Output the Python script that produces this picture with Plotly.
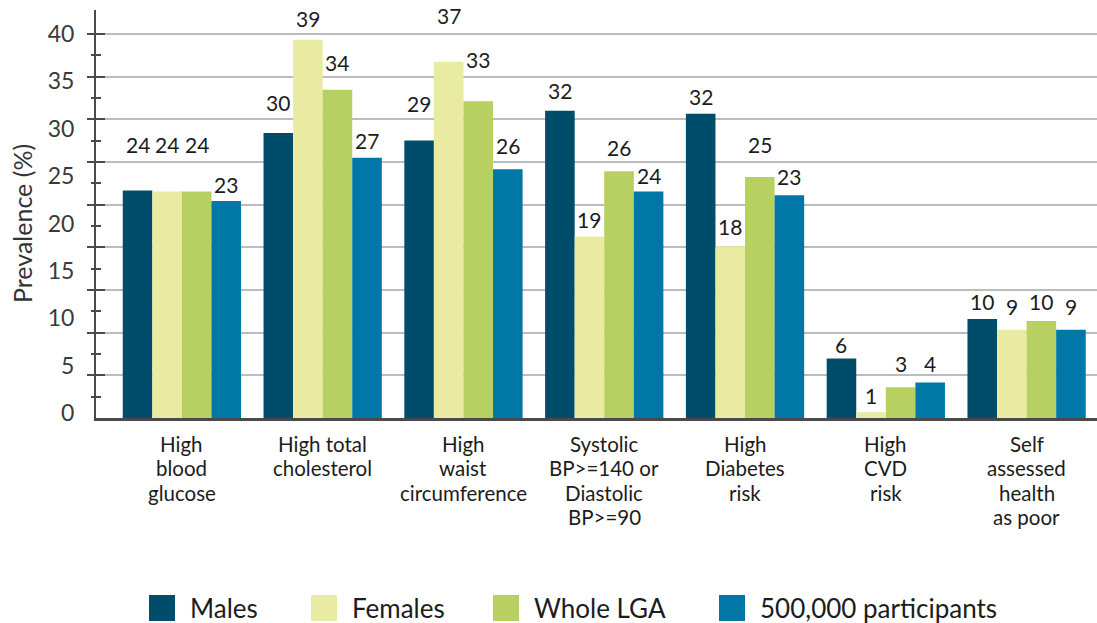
import plotly.graph_objects as go

# data
CATEGORIES = [
    "High<br>blood<br>glucose",
    "High total<br>cholesterol",
    "High<br>waist<br>circumference",
    "Systolic<br>BP>=140 or<br>Diastolic<br>BP>=90",
    "High<br>Diabetes<br>risk",
    "High<br>CVD<br>risk",
    "Self<br>assessed<br>health<br>as poor",
]
SERIES = ["Males", "Females", "Whole LGA", "500,000 participants"]
MALES = [23.7, 29.7, 28.9, 32.0, 31.7, 6.2, 10.3]
FEMALES = [23.6, 39.4, 37.1, 18.9, 17.9, 0.6, 9.2]
WHOLE_LGA = [23.6, 34.2, 33.0, 25.7, 25.1, 3.2, 10.1]
PARTICIPANTS = [22.6, 27.1, 25.9, 23.6, 23.2, 3.7, 9.2]
Y_TICK_TEXT = ["0", "5", "10", "15", "20", "25", "30", "35", "40"]

COLORS = ["#004c6b", "#e9eba3", "#b8cf62", "#0077a7"]
FONT = "Lato, 'Open Sans', sans-serif"

# gap (px) between bar top and its value label, as in the original artwork
LABEL_GAP = [
    [37, 21, 28, 11, 8, 5, 9],
    [38, 12, 37, 8, 11, 8, 14],
    [38, 18, 33, 15, 24, 15, 11],
    [8, 8, 15, 7, 10, 10, 14],
]

W, H = 1097, 623
ML, MR, MT, MB = 96, 0, 10, 205
Y_TOP = 42.5
BARGAP = 0.16
BAR_W = (1 - BARGAP) / len(SERIES)

GRID = [40 / 9 * k for k in range(1, 10)]
HALF = [40 / 9 * k + 20 / 9 for k in range(0, 9)]
LABEL_POS = [0.5 + k * 39.5 / 8 for k in range(len(Y_TICK_TEXT))]


def px_x(x):
    return (x - ML) / (W - ML - MR)


def px_y(y):
    return (H - MB - y) / (H - MB - MT)


values = [MALES, FEMALES, WHOLE_LGA, PARTICIPANTS]

fig = go.Figure()
for name, vals, color in zip(SERIES, values, COLORS):
    fig.add_trace(go.Bar(x=CATEGORIES, y=vals, name=name, marker_color=color,
                         marker_line_width=0, showlegend=False))

annotations = []
for j, vals in enumerate(values):
    for i, v in enumerate(vals):
        annotations.append(dict(
            x=i + (j - 1.5) * BAR_W, y=v, xref="x", yref="y",
            text=f"{v:.0f}", showarrow=False, yanchor="bottom",
            yshift=LABEL_GAP[j][i] - 5.5,
            font=dict(family=FONT, size=21, color="#1c1c1c"),
        ))

# category labels, one annotation per line to keep the tight line spacing
for i, cat in enumerate(CATEGORIES):
    for k, line in enumerate(cat.split("<br>")):
        annotations.append(dict(
            x=i, y=px_y(443.5 + 24.6 * k), xref="x", yref="paper", text=line,
            showarrow=False, xanchor="center", yanchor="middle", borderpad=0,
            font=dict(family=FONT, size=20.5, color="#1c1c1c"),
        ))

annotations.append(dict(
    x=px_x(22), y=px_y(224), xref="paper", yref="paper", text="Prevalence (%)",
    textangle=-90, showarrow=False, xanchor="center", yanchor="middle",
    font=dict(family=FONT, size=25, color="#333333"),
))

# legend drawn by hand to get the large square swatches
LEGEND_X = [149, 311, 493, 719]
shapes = []
for name, color, lx in zip(SERIES, COLORS, LEGEND_X):
    shapes.append(dict(type="rect", xref="paper", yref="paper",
                       x0=px_x(lx), x1=px_x(lx + 26), y0=px_y(621), y1=px_y(595),
                       fillcolor=color, line_width=0))
    annotations.append(dict(
        x=px_x(lx + 39), y=px_y(608), xref="paper", yref="paper", text=name,
        showarrow=False, xanchor="left", yanchor="middle",
        font=dict(family=FONT, size=26, color="#1c1c1c"),
    ))

fig.update_layout(
    width=W, height=H,
    margin=dict(l=ML, r=MR, t=MT, b=MB),
    plot_bgcolor="white", paper_bgcolor="white",
    barmode="group", bargap=BARGAP, bargroupgap=0,
    font=dict(family=FONT, color="#333333"),
    xaxis=dict(
        type="category", range=[-0.61, 6.5],
        showline=True, linewidth=2.5, linecolor="#4a4a4a",
        showticklabels=False, ticks="",
        showgrid=False, zeroline=False,
    ),
    yaxis=dict(
        range=[0, Y_TOP], tickmode="array", tickvals=LABEL_POS, ticktext=Y_TICK_TEXT,
        ticks="outside", ticklen=15, tickcolor="rgba(0,0,0,0)",
        tickfont=dict(family=FONT, size=23, color="#3a3a3a"),
        showgrid=False, zeroline=False,
        showline=True, linewidth=2, linecolor="#4a4a4a",
        minor=dict(tickmode="array", tickvals=GRID, showgrid=True,
                   gridcolor="#bcbcbc", gridwidth=1.6, ticks=""),
    ),
    yaxis2=dict(
        overlaying="y", anchor="x", side="left", range=[0, Y_TOP],
        tickmode="array", tickvals=GRID, showticklabels=False,
        ticks="outside", ticklen=8, tickwidth=2, tickcolor="#4a4a4a",
        showgrid=False, zeroline=False, showline=False,
        minor=dict(tickmode="array", tickvals=HALF, ticks="outside",
                   ticklen=4, tickwidth=2, tickcolor="#4a4a4a", showgrid=False),
    ),
    yaxis3=dict(
        overlaying="y", anchor="x", side="left", range=[0, Y_TOP],
        tickmode="array", tickvals=GRID, showticklabels=False,
        ticks="inside", ticklen=9, tickwidth=2, tickcolor="#4a4a4a",
        showgrid=False, zeroline=False, showline=False,
        minor=dict(tickmode="array", tickvals=HALF, ticks="inside",
                   ticklen=5, tickwidth=2, tickcolor="#4a4a4a", showgrid=False),
    ),
    annotations=annotations,
    shapes=shapes,
    showlegend=False,
)

# empty traces so the overlay axes get drawn
fig.add_trace(go.Scatter(x=[], y=[], yaxis="y2", showlegend=False, hoverinfo="skip"))
fig.add_trace(go.Scatter(x=[], y=[], yaxis="y3", showlegend=False, hoverinfo="skip"))

# drop the default page margin so the figure sits at the window's corner
fig.write_html("out.html", config={"displayModeBar": False},
               post_script="document.body.style.margin = '0';")
